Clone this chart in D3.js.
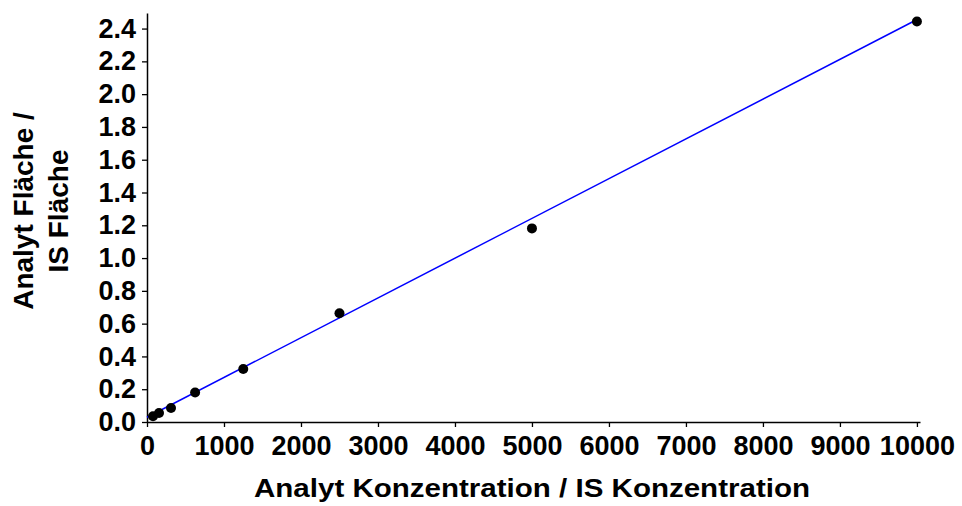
<!DOCTYPE html>
<html>
<head>
<meta charset="utf-8">
<script src="https://cdn.jsdelivr.net/npm/d3@7"></script>
<style>
body { margin: 0; background: #fff; }
text { font-family: "Liberation Sans", Arial, sans-serif; font-weight: bold; fill: #000; }
</style>
</head>
<body>
<script>
// calibration points
var concentrations = [78, 156, 312, 625, 1250, 2500, 5000, 10000];
var ratios = [0.035, 0.055, 0.085, 0.18, 0.323, 0.663, 1.181, 2.443];

// fitted line
var fitSlope = 0.0002426;
var fitIntercept = 0.029;
var fitRange = [0, 10040];

var xTicks = [0, 1000, 2000, 3000, 4000, 5000, 6000, 7000, 8000, 9000, 10000];
var yTicks = [0, 0.2, 0.4, 0.6, 0.8, 1.0, 1.2, 1.4, 1.6, 1.8, 2.0, 2.2, 2.4];

var xTitle = "Analyt Konzentration / IS Konzentration";
var yTitle = ["Analyt Fläche /", "IS Fläche"];

var w = 962, h = 506;

var svg = d3.select("body").append("svg")
  .attr("width", w)
  .attr("height", h);

var x = d3.scaleLinear().domain([0, 10040]).range([147, 920]);
var y = d3.scaleLinear().domain([0, 2.495]).range([422, 13]);

var xAxis = svg.append("g")
  .attr("transform", "translate(0," + y(0) + ")")
  .call(d3.axisBottom(x).tickValues(xTicks).tickSizeInner(5).tickSizeOuter(0).tickPadding(9).tickFormat(d3.format("d")));

var yAxis = svg.append("g")
  .attr("transform", "translate(" + x(0) + ",0)")
  .call(d3.axisLeft(y).tickValues(yTicks).tickSizeInner(5).tickSizeOuter(0).tickPadding(6).tickFormat(d3.format(".1f")));

svg.selectAll(".domain").attr("stroke", "#000").attr("stroke-width", 1.5);
svg.selectAll(".tick line").attr("stroke", "#000").attr("stroke-width", 1.3);
svg.selectAll(".tick text").style("font-size", "27px").attr("fill", "#000");

// fitted line
svg.append("line")
  .attr("x1", x(fitRange[0]))
  .attr("y1", y(fitIntercept + fitSlope * fitRange[0]))
  .attr("x2", x(fitRange[1]))
  .attr("y2", y(fitIntercept + fitSlope * fitRange[1]))
  .attr("stroke", "#0000ff")
  .attr("stroke-width", 1.5);

svg.selectAll("circle")
  .data(concentrations)
  .enter()
  .append("circle")
  .attr("cx", function(d) { return x(d); })
  .attr("cy", function(d, i) { return y(ratios[i]); })
  .attr("r", 5)
  .attr("fill", "#000");

svg.append("text")
  .attr("x", 532)
  .attr("y", 497)
  .attr("text-anchor", "middle")
  .attr("textLength", 556)
  .attr("lengthAdjust", "spacingAndGlyphs")
  .style("font-size", "25px")
  .text(xTitle);

svg.selectAll(".ytitle")
  .data(yTitle)
  .enter()
  .append("text")
  .attr("class", "ytitle")
  .attr("transform", function(d, i) { return "translate(" + (33 + i * 35) + ",211) rotate(-90)"; })
  .attr("text-anchor", "middle")
  .style("font-size", "28px")
  .text(function(d) { return d; });
</script>
</body>
</html>
